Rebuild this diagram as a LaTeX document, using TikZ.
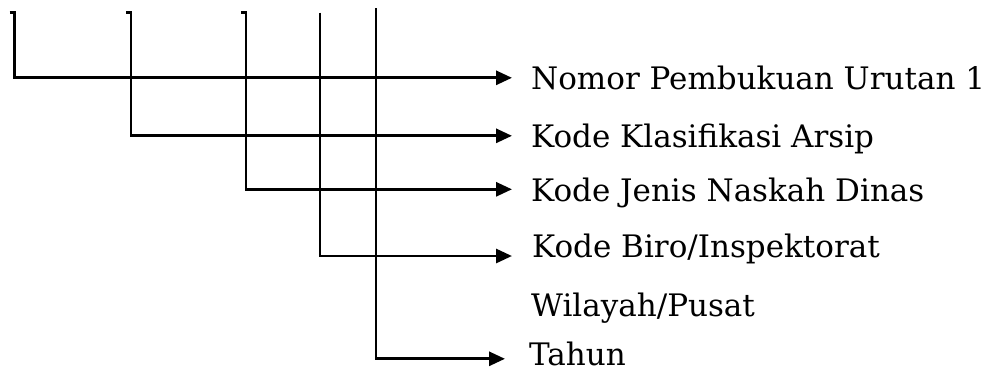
\documentclass[tikz,border=0pt]{standalone}
\usepackage{fontspec}
\setmainfont{DejaVu Serif}
\usetikzlibrary{arrows.meta}
\tikzstyle{entry} = [anchor=south west,inner sep=0pt,text height=21pt,text depth=0pt,font=\fontsize{31}{34}\selectfont]
\tikzstyle{arrow} = [line width=2.9pt,-{Triangle[length=16pt,width=14pt]}]
\begin{document}
\begin{tikzpicture}[x=1pt,y=-1pt]
\useasboundingbox (0,0) rectangle (993,373);
% keterangan
\node (nomor) [entry] at (531,90) {Nomor Pembukuan Urutan 1};
\node (klasifikasi) [entry] at (531,148) {Kode Klasifikasi Arsip};
\node (jenis) [entry] at (531,202) {Kode Jenis Naskah Dinas};
\node (biro) [entry] at (532,258) {Kode Biro/Inspektorat};
\node (wilayah) [entry] at (531,317) {Wilayah/Pusat};
\node (tahun) [entry] at (529,365.5) {Tahun};

% ujung atas garis
\coordinate (hook1) at (9.5,12.5);
\coordinate (top1) at (14.5,12.5);
\coordinate (hook2) at (126,12.5);
\coordinate (top2) at (131,12.5);
\coordinate (hook3) at (241,12.5);
\coordinate (top3) at (246,12.5);
\coordinate (top4) at (320,12.5);
\coordinate (top5) at (376,8);

\draw [arrow] (hook1) -- (top1) |- ([xshift=-19pt,yshift=1.5pt]nomor.west);
\draw [arrow] (hook2) -- (top2) |- ([xshift=-19pt,yshift=1.5pt]klasifikasi.west);
\draw [arrow] (hook3) -- (top3) |- ([xshift=-19pt,yshift=2pt]jenis.west);
\draw [arrow] (top4) |- ([xshift=-20pt,yshift=2pt]biro.south west);
\draw [arrow] (top5) |- ([xshift=-24pt,yshift=-4pt]tahun.west);
\end{tikzpicture}
\end{document}
